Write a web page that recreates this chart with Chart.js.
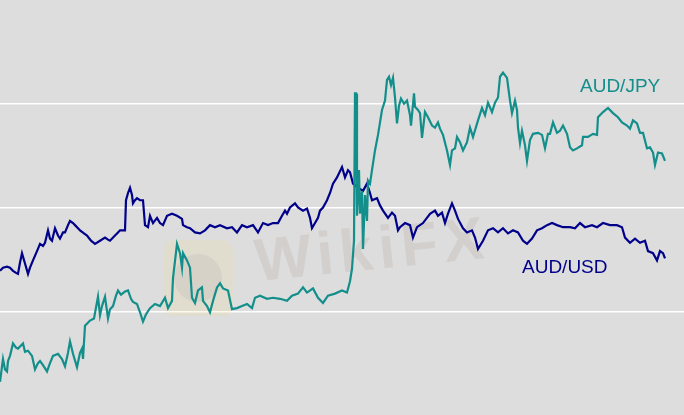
<!DOCTYPE html>
<html>
<head>
<meta charset="utf-8">
<script src="https://cdn.jsdelivr.net/npm/chart.js@4.4.1/dist/chart.umd.min.js"></script>
<style>
  html, body { margin: 0; padding: 0; background: #dddddd; }
  #wrap { width: 684px; height: 415px; }
</style>
</head>
<body>
<div id="wrap"><canvas id="fxChart"></canvas></div>
<script>
// -----------------------------
//  DATOS (índice relativo, escala 0-400)
// -----------------------------
const jpyDays = [0, 3, 5, 7, 8, 10, 13, 16, 18, 21, 23, 25, 28, 32, 35, 38, 40, 43, 47, 50,
  53, 58, 62, 65, 68, 70, 73, 77, 80, 82, 83, 85, 90, 94, 98, 100, 102, 105, 108, 110,
  113, 116, 118, 121, 125, 128, 131, 133, 137, 140, 143, 146, 148,
  150, 155, 160, 165, 168, 172, 173, 177, 180, 182, 183, 187, 190, 192, 195, 198, 202, 203,
  207, 210, 213, 217, 220, 223, 228, 232, 237, 242, 247, 252, 255, 260, 267, 273, 280, 287,
  292, 298, 303, 307, 313, 318, 323, 328, 335, 342, 347, 350, 352, 354, 355, 356, 357, 359,
  360, 362, 363, 365, 367, 368, 370, 372,
  375, 378, 382, 385, 387, 389, 391, 393, 395, 397, 399, 401, 404, 407, 410, 411, 414, 415, 418,
  420, 422, 425, 428, 432, 435, 438, 440, 443, 447, 450, 452, 455, 457, 460, 463, 467, 470, 473,
  478, 482, 485, 488, 492, 495, 498, 500, 503, 507, 510, 512, 515, 517, 518, 520, 522, 525, 527,
  530, 533, 538, 542, 545, 548,
  550, 553, 557, 560, 563, 567, 570, 573, 577, 582, 583, 588, 593, 597, 598, 603, 608, 613, 618,
  622, 627, 630, 633, 637, 640, 643, 647, 650, 653, 655, 658, 662, 665];
const jpyValues = [32, 54, 44, 42, 52, 57, 69, 65, 64, 67, 69, 61, 62, 57, 44, 50, 52, 48, 42, 50,
  57, 59, 54, 47, 60, 71, 59, 46, 60, 64, 54, 86, 91, 93, 114, 96, 105, 114, 93, 102,
  105, 115, 120, 116, 119, 120, 112, 109, 107, 99, 90, 97, 100,
  103, 107, 105, 113, 103, 110, 132, 165, 156, 142, 156, 149, 142, 113, 108, 120, 123, 110,
  105, 99, 110, 123, 127, 122, 120, 102, 103, 105, 107, 103, 113, 115, 112, 113, 112, 110,
  115, 117, 123, 118, 122, 113, 108, 115, 117, 120, 118, 129, 141, 168, 310, 310, 192, 236,
  194, 216, 160, 212, 187, 226, 223, 236,
  255, 270, 294, 303, 323, 326, 318, 325, 306, 281, 298, 305, 300, 303, 289, 279, 310, 297, 294,
  291, 267, 292, 287, 279, 277, 282, 276, 270, 255, 241, 255, 257, 268, 263, 255, 263, 277, 268,
  284, 296, 289, 301, 292, 301, 306, 326, 330, 325, 303, 291, 303, 294, 277, 262, 274, 260, 245,
  265, 271, 272, 270, 257, 271,
  271, 282, 272, 274, 279, 271, 258, 255, 257, 260, 268, 268, 271, 270, 287, 292, 296, 291, 287,
  282, 279, 276, 284, 281, 272, 272, 257, 258, 253, 241, 253, 252, 245];

const usdDays = [0, 3, 7, 10, 13, 16, 18, 20, 22, 25, 28, 30, 33, 37, 40, 43, 45, 48, 50, 52,
  55, 58, 60, 63, 65, 68, 70, 73, 75, 78, 80, 84, 87, 91, 95, 100, 105, 108, 110, 115,
  118, 120, 125, 126, 128, 130, 132, 133, 135, 137, 140, 143, 145, 148,
  150, 153, 157, 160, 163, 167, 172, 177, 182, 183, 187, 190, 195, 200, 205, 210, 215, 220,
  227, 232, 237, 242, 247, 253, 258, 263, 268, 273, 278, 282, 285, 287, 290, 295, 298, 303,
  307, 310, 312, 315, 318, 320, 323, 327, 330, 333, 337, 342, 345, 348, 350, 353, 358, 363,
  367, 370, 372, 377, 380, 383, 388, 392, 395, 398,
  400, 405, 410, 413, 417, 423, 430, 435, 438, 442, 445, 448, 452, 455, 458, 463, 467, 472,
  475, 478, 483, 488, 493, 498, 503, 508, 513, 518, 523, 527, 532, 537, 542, 547, 552, 557,
  563, 570, 575, 580, 585, 592, 597, 603, 610, 617, 622, 625, 630, 635, 640, 645, 648, 653,
  657, 660, 663, 665];
const usdValues = [139, 142, 143, 142, 139, 137, 136, 147, 156, 146, 136, 142, 149, 158, 165, 163, 166, 178, 170, 168,
  180, 173, 170, 176, 176, 183, 187, 185, 183, 180, 178, 175, 173, 168, 165, 168, 171, 169, 168, 173,
  176, 178, 178, 207, 214, 219, 212, 204, 207, 209, 207, 207, 183, 181,
  192, 185, 190, 185, 183, 192, 194, 192, 189, 183, 181, 180, 176, 175, 178, 183, 181, 183,
  180, 181, 176, 183, 181, 183, 176, 185, 183, 185, 185, 192, 197, 194, 200, 204, 200, 197,
  199, 190, 180, 185, 190, 197, 200, 207, 214, 223, 229, 239, 229, 236, 234, 223, 219, 216,
  223, 214, 207, 209, 202, 197, 190, 195, 192, 178,
  181, 185, 183, 171, 181, 185, 194, 197, 192, 195, 185, 194, 204, 197, 189, 180, 176, 178,
  171, 160, 168, 178, 180, 176, 180, 175, 178, 176, 168, 165, 170, 178, 180, 183, 185, 183,
  181, 181, 180, 185, 181, 183, 181, 185, 183, 183, 181, 171, 166, 170, 166, 168, 158, 156,
  149, 158, 156, 151];

const gridTicks = [100, 200, 300];
const jpyLabel = "AUD/JPY";
const usdLabel = "AUD/USD";
const watermark = "WikiFX";

const TEAL = "#138f8b";
const NAVY = "#00008a";

const toPoints = (xs, ys) => xs.map((x, i) => ({ x, y: ys[i] }));

// -----------------------------
//  PLUGINS: fondo, marca de agua, etiquetas
// -----------------------------
const decor = {
    id: "decor",
    beforeDraw(chart) {
        const { ctx, width, height } = chart;
        ctx.save();
        ctx.fillStyle = "#dddddd";
        ctx.fillRect(0, 0, width, height);
        ctx.restore();
    },
    beforeDatasetsDraw(chart) {
        const ctx = chart.ctx;
        ctx.save();
        // logo
        ctx.fillStyle = "rgba(245, 225, 150, 0.2)";
        ctx.beginPath();
        ctx.roundRect(163, 240, 70, 76, 10);
        ctx.fill();
        ctx.fillStyle = "rgba(140, 130, 160, 0.12)";
        ctx.beginPath();
        ctx.arc(198, 278, 24, 0, Math.PI * 2);
        ctx.fill();
        // texto
        ctx.translate(257, 281);
        ctx.rotate(-0.1);
        ctx.font = "bold 60px 'Liberation Sans', Arial, sans-serif";
        ctx.letterSpacing = "6px";
        ctx.fillStyle = "rgba(175, 165, 155, 0.24)";
        ctx.fillText(watermark, 0, 0);
        ctx.restore();
    },
    afterDatasetsDraw(chart) {
        const ctx = chart.ctx;
        ctx.save();
        ctx.font = "19px 'Liberation Sans', Arial, sans-serif";
        ctx.textBaseline = "alphabetic";
        ctx.fillStyle = TEAL;
        ctx.fillText(jpyLabel, 580, 92);
        ctx.fillStyle = NAVY;
        ctx.fillText(usdLabel, 522, 273);
        ctx.restore();
    }
};

const chart = new Chart(document.getElementById("fxChart"), {
    type: "line",
    data: {
        datasets: [
            {
                label: jpyLabel,
                data: toPoints(jpyDays, jpyValues),
                borderColor: TEAL,
                borderWidth: 2.2,
                pointRadius: 0,
                tension: 0
            },
            {
                label: usdLabel,
                data: toPoints(usdDays, usdValues),
                borderColor: NAVY,
                borderWidth: 2.2,
                pointRadius: 0,
                tension: 0
            }
        ]
    },
    options: {
        responsive: true,
        maintainAspectRatio: false,
        animation: false,
        layout: { padding: 0 },
        plugins: { legend: { display: false }, tooltip: { enabled: false } },
        scales: {
            x: { type: "linear", min: 0, max: 684, display: false },
            y: {
                min: 0,
                max: 400,
                afterBuildTicks: s => { s.ticks = gridTicks.map(v => ({ value: v })); },
                afterFit: s => { s.width = 0; },
                ticks: { display: false },
                border: { display: false },
                grid: { color: "#ffffff", lineWidth: 1.5, drawTicks: false }
            }
        }
    },
    plugins: [decor]
});
</script>
</body>
</html>
